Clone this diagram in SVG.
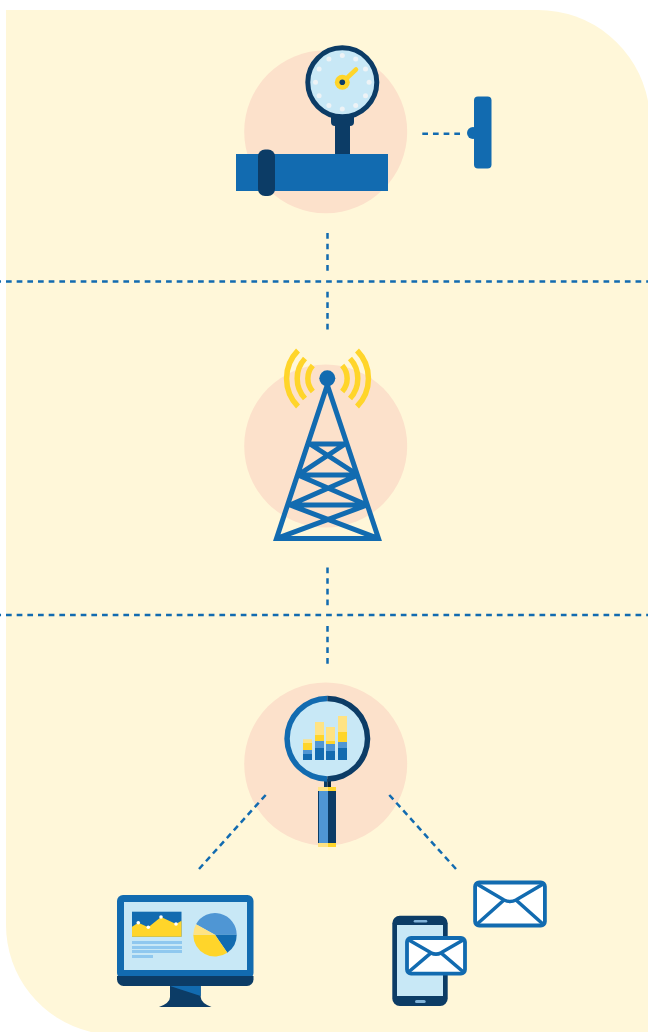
<svg xmlns="http://www.w3.org/2000/svg" width="648" height="1032" viewBox="0 0 648 1032">
<style>
.halo{fill:#fce1cb}
.dash{fill:none;stroke:#126bb0;stroke-width:2.500;stroke-dasharray:5.700 4.970}
.diag{fill:none;stroke:#126bb0;stroke-width:2.500;stroke-dasharray:6 4.400}
.tw{fill:none;stroke:#126bb0;stroke-width:5;stroke-linejoin:miter}
.wave{fill:none;stroke:#ffd52a;stroke-width:5.500}
.env{fill:#fff;stroke:#126bb0;stroke-width:3.800}
.envl{fill:none;stroke:#126bb0;stroke-width:3.600}
.d{fill:#0c3c66}.b{fill:#126bb0}.m{fill:#4f96d4}.y{fill:#ffd52a}.l{fill:#ffe383}.s{fill:#c8e8f6}.t{fill:#eef3f6}.r{fill:#8fc8ef}
</style>
<path id="background" d="M6 10H538A112 112 0 0 1 648 101V1032H91A110 110 0 0 1 6 925Z" fill="#fff7d9"/>
<g id="gauge">
<circle class="halo" cx="325.700" cy="131.700" r="81.500"/>
<rect class="d" x="335" y="120" width="15" height="36"/>
<rect class="d" x="331" y="110" width="23" height="16" rx="4"/>
<circle class="s" cx="342.300" cy="82.300" r="34.500" stroke="#0c3c66" stroke-width="5"/>
<g class="t">
<circle cx="342.300" cy="55.500" r="2.500"/><circle cx="355.700" cy="59.100" r="2.500"/><circle cx="365.500" cy="68.900" r="2.500"/><circle cx="369.100" cy="82.300" r="2.500"/><circle cx="365.500" cy="95.700" r="2.500"/><circle cx="355.700" cy="105.500" r="2.500"/><circle cx="342.300" cy="109.100" r="2.500"/><circle cx="328.900" cy="105.500" r="2.500"/><circle cx="319.100" cy="95.700" r="2.500"/><circle cx="315.500" cy="82.300" r="2.500"/><circle cx="319.100" cy="68.900" r="2.500"/><circle cx="328.900" cy="59.100" r="2.500"/>
</g>
<path d="M342.300 82.300L356 69.500" fill="none" stroke="#ffd52a" stroke-width="4.500" stroke-linecap="round"/>
<circle class="y" cx="342.300" cy="82.300" r="7.500"/>
<circle class="d" cx="342.300" cy="82.300" r="2.800"/>
<rect class="b" x="236" y="154" width="152" height="37"/>
<rect class="d" x="258" y="149.500" width="17" height="46.500" rx="7"/>
</g>
<g id="valve">
<circle class="b" cx="473" cy="133" r="6"/>
<rect class="b" x="474" y="96.500" width="17.500" height="72" rx="4"/>
</g>
<g id="tower">
<circle class="halo" cx="325.700" cy="446" r="81.500"/>
<path class="wave" d="M312.800 365.500A19.500 19.500 0 0 0 312.800 391.500M305 358.500A29.500 29.500 0 0 0 305 398.500M298 350.500A40 40 0 0 0 298 406.500M342.200 365.500A19.500 19.500 0 0 1 342.200 391.500M350 358.500A29.500 29.500 0 0 1 350 398.500M357 350.500A40 40 0 0 1 357 406.500"/>
<path class="tw" d="M327.300 385L276.500 538.400H378.500ZM310 444H345M298 475H358M290 505H367M310 444L358 475M345 444L298 475M298 475L367 505M358 475L290 505M290 505L378 538.400M367 505L277 538.400"/>
<circle class="b" cx="327.300" cy="378.300" r="8"/>
</g>
<g id="magnifier">
<circle class="halo" cx="325.700" cy="764" r="81.500"/>
<rect x="324" y="779" width="3.500" height="8" class="d"/><rect x="327.500" y="779" width="3.500" height="8" fill="#08263f"/>
<rect class="m" x="318" y="787" width="10" height="60"/><rect class="d" x="328" y="787" width="8" height="60"/><rect class="d" x="318" y="791" width="1" height="52"/>
<rect class="l" x="318" y="787" width="10" height="4"/><rect class="y" x="328" y="787" width="8" height="4"/>
<rect class="l" x="318" y="843" width="10" height="4"/><rect class="y" x="328" y="843" width="8" height="4"/>
<circle class="s" cx="327.300" cy="738.700" r="38"/>
<path d="M327.300 695.700A43 43 0 0 0 327.300 781.700V776.200A37.500 37.500 0 0 1 327.300 701.200Z" class="b"/>
<path d="M327.300 695.700A43 43 0 0 1 327.300 781.700V776.200A37.500 37.500 0 0 0 327.300 701.200Z" class="d"/>
<rect class="l" x="303" y="739.300" width="9" height="4"/><rect class="y" x="303" y="743" width="9" height="7"/><rect class="m" x="303" y="750" width="9" height="4"/><rect class="b" x="303" y="754" width="9" height="6"/>
<rect class="l" x="315" y="722" width="9" height="13"/><rect class="y" x="315" y="735" width="9" height="6"/><rect class="m" x="315" y="741" width="9" height="7"/><rect class="b" x="315" y="748" width="9" height="12"/>
<rect class="l" x="326" y="727" width="9" height="14"/><rect class="y" x="326" y="741" width="9" height="3"/><rect class="m" x="326" y="744" width="9" height="7"/><rect class="b" x="326" y="751" width="9" height="9"/>
<rect class="l" x="338" y="716" width="9" height="16"/><rect class="y" x="338" y="732" width="9" height="10"/><rect class="m" x="338" y="742" width="9" height="6"/><rect class="b" x="338" y="748" width="9" height="12"/>
</g>
<g id="monitor">
<path class="d" d="M170 985H200.700V997Q201 1003 211.500 1007H159Q170 1003 170 997Z"/>
<path class="b" d="M170 986H200.700V996Z"/>
<rect class="b" x="117" y="895" width="136.500" height="84" rx="6"/>
<path class="d" d="M117 976H253.500V979.500A6.500 6.500 0 0 1 247 986H123.500A6.500 6.500 0 0 1 117 979.500Z"/>
<rect class="s" x="124" y="902" width="123" height="68"/>
<rect class="b" x="132" y="911.700" width="49.500" height="25"/>
<path class="y" d="M132 926.700L138.300 922.700L148.300 927.300L161 917L176 924L181.500 920.700V936.700H132Z"/>
<g fill="#fff"><circle cx="138.300" cy="922.700" r="1.800"/><circle cx="148.300" cy="927.300" r="1.800"/><circle cx="161" cy="917" r="1.800"/><circle cx="176" cy="924" r="1.800"/></g>
<rect class="r" x="132" y="941" width="50" height="3"/><rect class="r" x="132" y="946" width="50" height="3"/><rect class="r" x="132" y="950" width="50" height="3"/><rect class="r" x="132" y="955" width="21" height="3"/>
<path class="m" d="M215 934.700L196 924.300A21.700 21.700 0 0 1 236.700 934.700Z"/>
<path class="b" d="M215 934.700H236.700A21.700 21.700 0 0 1 227.300 952.700Z"/>
<path class="y" d="M215 934.700L227.300 952.700A21.700 21.700 0 0 1 193.300 934.700Z"/>
<path class="l" d="M215 934.700H193.300A21.700 21.700 0 0 1 196 924.300Z"/>
</g>
<g id="phone">
<rect class="d" x="392.300" y="915.700" width="55.400" height="90.300" rx="7.500"/>
<rect class="s" x="397" y="925" width="46" height="71"/>
<rect x="413.700" y="920" width="13.600" height="2.600" rx="1.300" fill="#7fb2d9"/>
<rect x="415" y="1000" width="10.700" height="3" rx="1.500" fill="#7fb2d9"/>
</g>
<g id="mail-front">
<rect class="env" x="407" y="938" width="58" height="35.600" rx="4"/>
<path class="envl" d="M408 939.500L431 952.800Q436 955.500 441 952.800L464 939.500M408 972.500L431 952.800M464 972.500L441 952.800"/>
</g>
<g id="mail-back">
<rect class="env" x="475.100" y="882.500" width="69.800" height="43" rx="4"/>
<path class="envl" d="M476 883.500L504 900Q510 903 516 900L544 883.500M476 925L504 900M544 925L516 900"/>
</g>
<g id="connectors">
<path class="dash" d="M-4.670 281.500H648M-4.670 615H648M422.300 133.700H461M327.500 233V272M327.500 291.700V330M327.500 567.500V606M327.500 626V664"/>
<path class="diag" d="M265.700 795L199 869M389.300 795L456 869"/>
</g>
</svg>
